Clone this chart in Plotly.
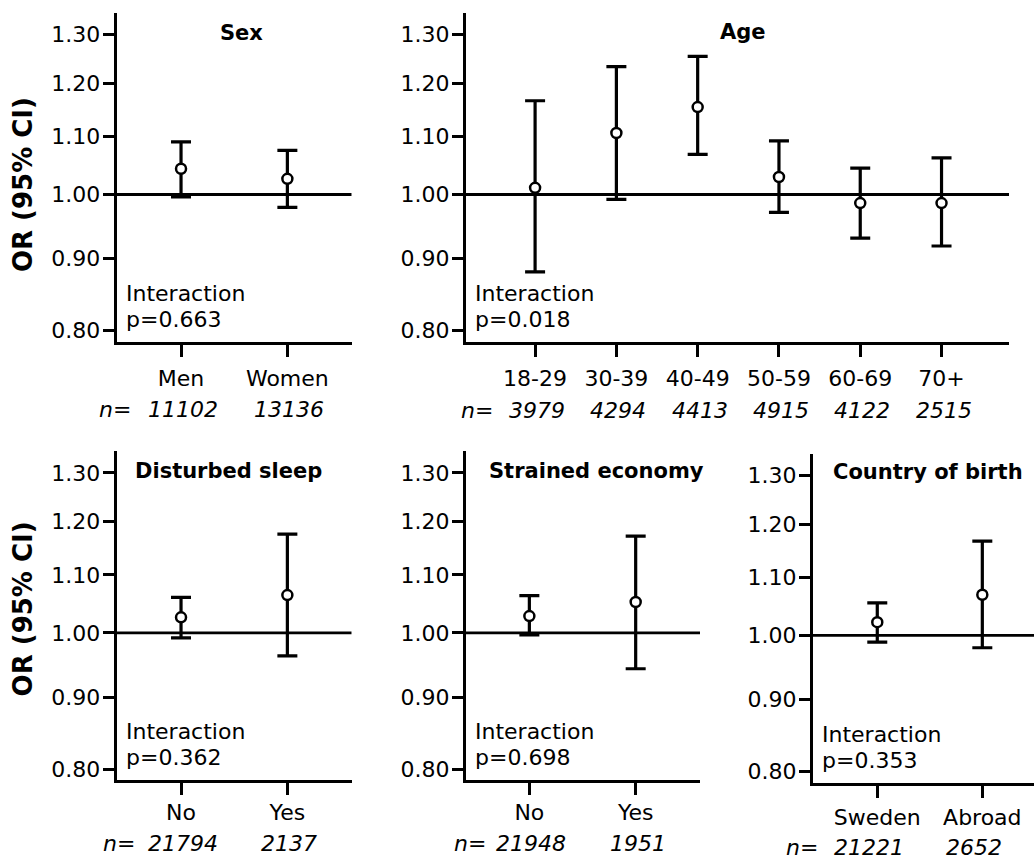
import plotly.graph_objects as go

W, H = 1034, 860

# ---------------- data ----------------
ref_or = 1.0
y_ticks = [0.80, 0.90, 1.00, 1.10, 1.20, 1.30]
y_ticktext = ["0.80", "0.90", "1.00", "1.10", "1.20", "1.30"]

sex_cats = ["Men", "Women"]
sex_or = [1.043, 1.026]
sex_lo = [0.996, 0.979]
sex_hi = [1.090, 1.075]
sex_n = ["11102", "13136"]
sex_p = "p=0.663"

age_cats = ["18-29", "30-39", "40-49", "50-59", "60-69", "70+"]
age_or = [1.011, 1.106, 1.154, 1.029, 0.986, 0.986]
age_lo = [0.881, 0.992, 1.068, 0.971, 0.931, 0.919]
age_hi = [1.166, 1.233, 1.254, 1.092, 1.044, 1.062]
age_n = ["3979", "4294", "4413", "4915", "4122", "2515"]
age_p = "p=0.018"

sleep_cats = ["No", "Yes"]
sleep_or = [1.026, 1.064]
sleep_lo = [0.992, 0.963]
sleep_hi = [1.060, 1.176]
sleep_n = ["21794", "2137"]
sleep_p = "p=0.362"

econ_cats = ["No", "Yes"]
econ_or = [1.028, 1.052]
econ_lo = [0.997, 0.943]
econ_hi = [1.063, 1.172]
econ_n = ["21948", "1951"]
econ_p = "p=0.698"

country_cats = ["Sweden", "Abroad"]
country_or = [1.022, 1.069]
country_lo = [0.989, 0.980]
country_hi = [1.055, 1.167]
country_n = ["21221", "2652"]
country_p = "p=0.353"

titles = ["Sex", "Age", "Disturbed sleep", "Strained economy", "Country of birth"]
y_title = "OR (95% CI)"
interaction_label = "Interaction"

# ---------------- layout geometry (pixels) ----------------
def fx(p):
    return p / W

def fy(p):
    return 1 - p / H

panels = [
    dict(cats=sex_cats, orv=sex_or, lo=sex_lo, hi=sex_hi, n=sex_n, p=sex_p,
         xd=(116.7, 351.7), xr=(-0.605, 1.605), yd=(13, 342.5),
         title=(241.5, 32.8, "center"), nrow=410, nx=133, nshift=2, standoff=3),
    dict(cats=age_cats, orv=age_or, lo=age_lo, hi=age_hi, n=age_n, p=age_p,
         xd=(466, 1009), xr=(-0.85, 5.83), yd=(13, 342.5),
         title=(743, 32.5, "center"), nrow=411, nx=495, nshift=2, standoff=3),
    dict(cats=sleep_cats, orv=sleep_or, lo=sleep_lo, hi=sleep_hi, n=sleep_n, p=sleep_p,
         xd=(116.7, 351.7), xr=(-0.605, 1.605), yd=(452.5, 782),
         title=(133.3, 472.5, "left"), nrow=845, nx=137, nshift=2, standoff=-2),
    dict(cats=econ_cats, orv=econ_or, lo=econ_lo, hi=econ_hi, n=econ_n, p=econ_p,
         xd=(466, 700), xr=(-0.596, 1.605), yd=(452.5, 782),
         title=(487, 472.5, "left"), nrow=845, nx=488, nshift=2, standoff=-2),
    dict(cats=country_cats, orv=country_or, lo=country_lo, hi=country_hi, n=country_n, p=country_p,
         xd=(813, 1034), xr=(-0.612, 1.492), yd=(455, 784.5),
         title=(831, 472.8, "left"), nrow=849, nx=820, nshift=-8, standoff=1),
]

FONT = "DejaVu Sans"
BLACK = "#000000"
y_range = [-0.1048, 0.1292]
LW = 3

fig = go.Figure()
annotations = []
layout_axes = {}

for i, (pn, title) in enumerate(zip(panels, titles), start=1):
    xa = "x" if i == 1 else f"x{i}"
    ya = "y" if i == 1 else f"y{i}"
    xkey = "xaxis" if i == 1 else f"xaxis{i}"
    ykey = "yaxis" if i == 1 else f"yaxis{i}"
    idx = list(range(len(pn["cats"])))

    # reference line at OR = 1
    fig.add_trace(go.Scatter(
        x=[pn["xr"][0], pn["xr"][1]], y=[ref_or, ref_or], mode="lines",
        line=dict(color=BLACK, width=2.8), xaxis=xa, yaxis=ya,
        showlegend=False, hoverinfo="skip"))

    # estimates with CI
    fig.add_trace(go.Scatter(
        x=idx, y=pn["orv"], mode="markers", xaxis=xa, yaxis=ya, showlegend=False,
        marker=dict(symbol="circle", size=10, color="white",
                    line=dict(color=BLACK, width=2.5)),
        error_y=dict(type="data", symmetric=False,
                     array=[h - o for h, o in zip(pn["hi"], pn["orv"])],
                     arrayminus=[o - l for o, l in zip(pn["orv"], pn["lo"])],
                     color=BLACK, thickness=3.2, width=10)))

    layout_axes[xkey] = dict(
        domain=[fx(pn["xd"][0]), fx(pn["xd"][1])], range=list(pn["xr"]),
        anchor=ya, tickmode="array", tickvals=idx, ticktext=pn["cats"],
        showline=True, linecolor=BLACK, linewidth=LW, mirror=False,
        ticks="outside", ticklen=12, tickwidth=LW, tickcolor=BLACK,
        showgrid=False, zeroline=False, fixedrange=True,
        tickfont=dict(family=FONT, size=22, color=BLACK),
        ticklabelstandoff=pn["standoff"])
    layout_axes[ykey] = dict(
        type="log", domain=[fy(pn["yd"][1]), fy(pn["yd"][0])], range=y_range,
        anchor=xa, tickmode="array", tickvals=y_ticks, ticktext=y_ticktext,
        showline=True, linecolor=BLACK, linewidth=LW,
        ticks="outside", ticklen=11, tickwidth=LW, tickcolor=BLACK,
        showgrid=False, zeroline=False, fixedrange=True,
        tickfont=dict(family=FONT, size=22, color=BLACK),
        ticklabelstandoff=-2)

    tx, ty, tanchor = pn["title"]
    annotations.append(dict(
        text=f"<b>{title}</b>", x=fx(tx), y=fy(ty), xref="paper", yref="paper",
        xanchor=tanchor, yanchor="middle", showarrow=False,
        font=dict(family=FONT, size=21, color=BLACK)))

    # interaction text
    annotations.append(dict(
        text=interaction_label, x=fx(pn["xd"][0] + 8), y=fy(pn["yd"][0] + 281),
        xref="paper", yref="paper", xanchor="left", yanchor="middle", borderpad=0,
        showarrow=False, font=dict(family=FONT, size=22, color=BLACK)))
    annotations.append(dict(
        text=pn["p"], x=fx(pn["xd"][0] + 8), y=fy(pn["yd"][0] + 307),
        xref="paper", yref="paper", xanchor="left", yanchor="middle", borderpad=0,
        showarrow=False, font=dict(family=FONT, size=22, color=BLACK)))

    # n row
    annotations.append(dict(
        text="<i>n=</i>", x=fx(pn["nx"]), y=fy(pn["nrow"]), xref="paper", yref="paper",
        xanchor="right", yanchor="middle", showarrow=False,
        font=dict(family=FONT, size=22, color=BLACK)))
    for k, nv in zip(idx, pn["n"]):
        annotations.append(dict(
            text=f"<i>{nv}</i>", x=k, y=fy(pn["nrow"]), xref=xa, yref="paper",
            xanchor="center", yanchor="middle", xshift=pn["nshift"], showarrow=False,
            font=dict(family=FONT, size=22, color=BLACK)))

# y-axis titles
for cy in (185, 610.3):
    annotations.append(dict(
        text=f"<b>{y_title}</b>", x=fx(22.5), y=fy(cy), xref="paper", yref="paper",
        xanchor="center", yanchor="middle", textangle=-90, showarrow=False,
        font=dict(family=FONT, size=26, color=BLACK)))

fig.update_layout(
    width=W, height=H, margin=dict(l=0, r=0, t=0, b=0),
    paper_bgcolor="white", plot_bgcolor="white",
    showlegend=False, annotations=annotations,
    font=dict(family=FONT, color=BLACK),
    **layout_axes)

fig.write_html("out.html", config={"displayModeBar": False},
               post_script="document.body.style.margin='0';document.body.style.overflow='hidden';")
